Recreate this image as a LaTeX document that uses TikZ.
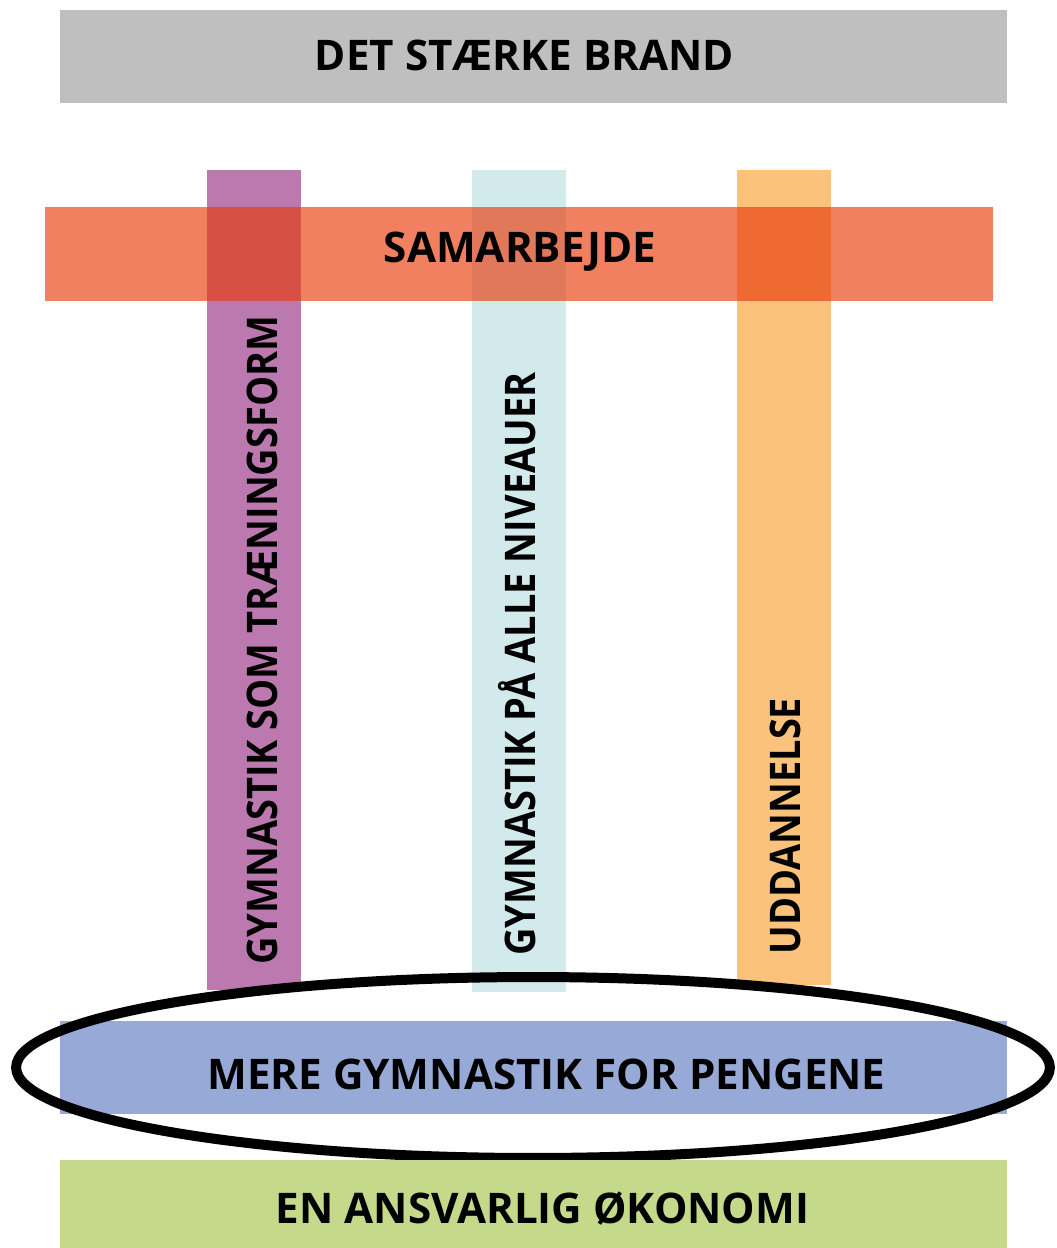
\documentclass[tikz,border=0pt]{standalone}
\usepackage{fontspec}
\setmainfont{Open Sans}
\newfontfamily\pillarFont[FakeStretch=0.9]{Open Sans}
\usetikzlibrary{shapes.geometric, calc, positioning}
\definecolor{brandGray}{RGB}{191,191,191}
\definecolor{coopRed}{RGB}{232,57,7}
\definecolor{trainPurple}{RGB}{188,121,176}
\definecolor{levelBlue}{RGB}{210,234,236}
\definecolor{eduOrange}{RGB}{250,194,122}
\definecolor{moreBlue}{RGB}{151,169,214}
\definecolor{econGreen}{RGB}{196,217,138}
\tikzset{
    barH/.style={rectangle, inner sep=0pt, minimum width=18.94cm, minimum height=1.87cm},
    barV/.style={rectangle, inner sep=0pt, minimum width=1.88cm},
    barLabel/.style={inner sep=0pt, font=\bfseries\fontsize{24}{28}\selectfont},
    barText/.style={rotate=90, anchor=base west, inner sep=0pt, font=\pillarFont\bfseries\fontsize{24}{28}\selectfont},
    ring/.style={ellipse, draw, line width=0.2cm, inner sep=0pt, minimum width=20.68cm, minimum height=3.62cm},
}
\newcommand{\drawPillar}[4]{
    % søjle fra y=170 ned til #3
    \node[barV, fill=#4, minimum height={(#3-170)*0.02cm}] (#1) at (#2, {(170+#3)/2}) {};
}

\begin{document}
\begin{tikzpicture}[x=0.02cm, y=-0.02cm]
    \useasboundingbox (0, 0) rectangle (1057, 1248);

    \node[barH, fill=brandGray] (brand) at (533.5, 56.5) {};
    \node[barLabel] (brandText) at ($(brand.center)+(-9, -1)$) {DET STÆRKE BRAND};

    \drawPillar{train}{254}{990}{trainPurple}
    \drawPillar{level}{519}{992}{levelBlue}
    \drawPillar{edu}{784}{985}{eduOrange}

    \node[barH, fill=coopRed, fill opacity=0.64, minimum width=18.96cm] (coop) at (519, 254) {};
    \node[barLabel] (coopText) at ($(coop.center)+(1, -2)$) {SAMARBEJDE};

    \node[barText] (trainText) at (277, 965) {GYMNASTIK SOM TRÆNINGSFORM};
    \node[barText] (levelText) at (535, 956) {GYMNASTIK PÅ ALLE NIVEAUER};
    \node[barText] (eduText) at (800, 955) {UDDANNELSE};

    \node[barH, fill=moreBlue] (more) at (533.5, 1067.5) {};
    \node[barLabel] (moreText) at ($(more.center)+(13, 7)$) {MERE GYMNASTIK FOR PENGENE};
    \node[ring] (focus) at (533, 1067.5) {};

    \node[barH, fill=econGreen] (econ) at (533.5, 1206.5) {};
    \node[barLabel] (econText) at ($(econ.center)+(9, 2)$) {EN ANSVARLIG ØKONOMI};

\end{tikzpicture}
\end{document}
